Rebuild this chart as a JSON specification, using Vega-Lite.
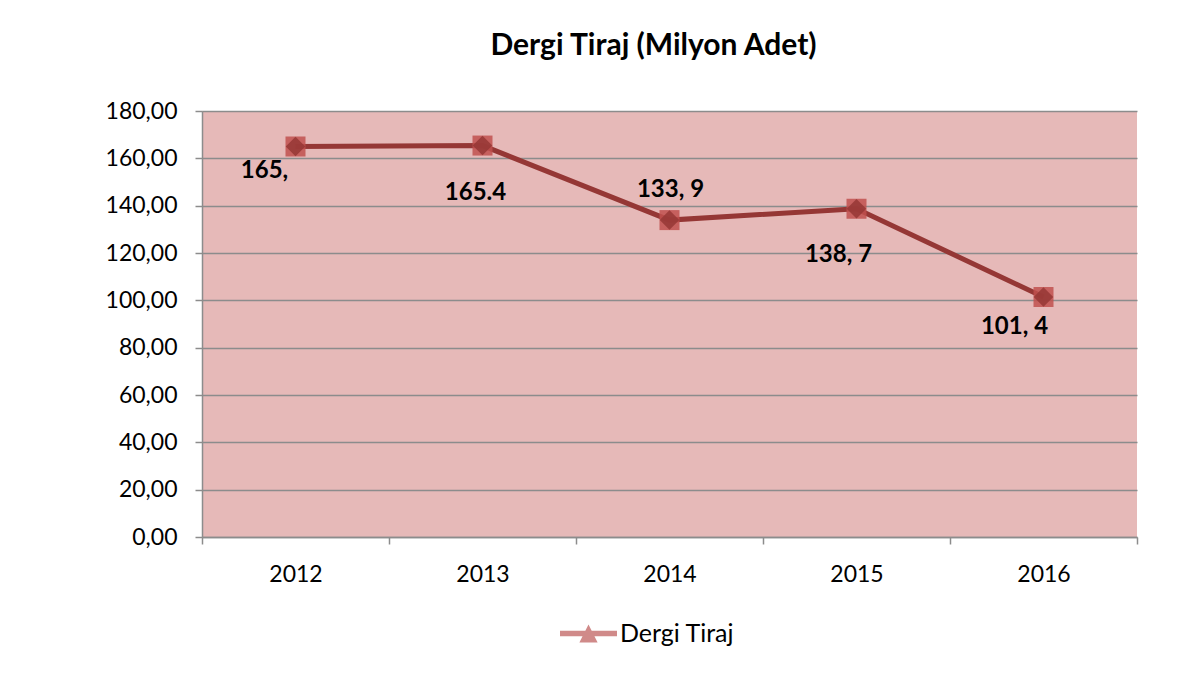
{
  "$schema": "https://vega.github.io/schema/vega-lite/v6.json",
  "width": 935,
  "height": 426,
  "padding": {"left": 105, "top": 31, "right": 40, "bottom": 20},
  "background": "white",
  "config": {
    "view": {"stroke": null, "fill": "#E6B9B8"},
    "font": "Lato",
    "text": {"font": "Lato"}
  },
  "title": {
    "text": "Dergi Tiraj (Milyon Adet)",
    "font": "Lato",
    "fontSize": 30,
    "fontWeight": "bold",
    "color": "black",
    "offset": 39,
    "dx": -16
  },
  "data": {
    "values": [
      {"year": 2012, "value": 165.0, "label": "165,", "series": "Dergi Tiraj"},
      {"year": 2013, "value": 165.4, "label": "165.4", "series": "Dergi Tiraj"},
      {"year": 2014, "value": 133.9, "label": "133,  9", "series": "Dergi Tiraj"},
      {"year": 2015, "value": 138.7, "label": "138,  7", "series": "Dergi Tiraj"},
      {"year": 2016, "value": 101.4, "label": "101,  4", "series": "Dergi Tiraj"}
    ]
  },
  "encoding": {
    "x": {
      "field": "year",
      "type": "quantitative",
      "scale": {"domain": [2011.5, 2016.5], "nice": false, "zero": false},
      "axis": {
        "title": null,
        "grid": false,
        "values": [2011.5, 2012, 2012.5, 2013, 2013.5, 2014, 2014.5, 2015, 2015.5, 2016, 2016.5],
        "labelExpr": "datum.value % 1 === 0 ? format(datum.value, 'd') : ''",
        "labelOverlap": false,
        "labelFlush": false,
        "labelFont": "Lato",
        "labelFontSize": 23,
        "labelColor": "black",
        "labelPadding": 19,
        "domainColor": "#8c8c8c",
        "domainWidth": 1.5,
        "tickColor": "#8c8c8c",
        "tickWidth": 1.5,
        "tickSize": 7,
        "tickOpacity": {"condition": {"test": "datum.value % 1 === 0", "value": 0}, "value": 1}
      }
    },
    "y": {
      "field": "value",
      "type": "quantitative",
      "scale": {"domain": [0, 180], "nice": false},
      "axis": {
        "title": null,
        "values": [0, 20, 40, 60, 80, 100, 120, 140, 160, 180],
        "labelExpr": "replace(format(datum.value, '.2f'), '.', ',')",
        "labelFont": "Lato",
        "labelFontSize": 23,
        "labelColor": "black",
        "labelPadding": 18,
        "gridColor": "#8c8c8c",
        "gridWidth": 1.5,
        "domainColor": "#8c8c8c",
        "domainWidth": 1.5,
        "tickColor": "#8c8c8c",
        "tickWidth": 1.5,
        "tickSize": 7
      }
    }
  },
  "layer": [
    {
      "mark": {"type": "point", "filled": true, "color": "#D08A89", "opacity": 1, "size": 0},
      "encoding": {
        "shape": {
          "field": "series",
          "type": "nominal",
          "scale": {"range": ["M-1,-0.1H1V0.1H-1Z M-0.32,0.32L0,-0.32L0.32,0.32Z"]},
          "legend": {
            "title": null,
            "orient": "none",
            "legendX": 358,
            "legendY": 494,
            "symbolSize": 3249,
            "symbolFillColor": "#D08A89",
            "symbolStrokeColor": "#D08A89",
            "symbolStrokeWidth": 0,
            "labelFont": "Lato",
            "labelFontSize": 25,
            "labelColor": "black",
            "labelOffset": 3
          }
        }
      }
    },
    {
      "mark": {"type": "line", "color": "#953735", "strokeWidth": 5}
    },
    {
      "mark": {"type": "point", "shape": "square", "filled": true, "color": "#C0504D", "opacity": 0.85, "size": 400}
    },
    {
      "mark": {"type": "point", "shape": "diamond", "filled": true, "color": "#953735", "opacity": 0.85, "size": 380}
    },
    {
      "transform": [{"filter": "datum.year === 2012"}],
      "mark": {"type": "text", "fontSize": 24, "fontWeight": "bold", "color": "black", "dx": -31, "dy": 24},
      "encoding": {"text": {"field": "label"}}
    },
    {
      "transform": [{"filter": "datum.year === 2013"}],
      "mark": {"type": "text", "fontSize": 24, "fontWeight": "bold", "color": "black", "dx": -7, "dy": 47},
      "encoding": {"text": {"field": "label"}}
    },
    {
      "transform": [{"filter": "datum.year === 2014"}],
      "mark": {"type": "text", "fontSize": 24, "fontWeight": "bold", "color": "black", "dx": 1, "dy": -30},
      "encoding": {"text": {"field": "label"}}
    },
    {
      "transform": [{"filter": "datum.year === 2015"}],
      "mark": {"type": "text", "fontSize": 24, "fontWeight": "bold", "color": "black", "dx": -18, "dy": 46},
      "encoding": {"text": {"field": "label"}}
    },
    {
      "transform": [{"filter": "datum.year === 2016"}],
      "mark": {"type": "text", "fontSize": 24, "fontWeight": "bold", "color": "black", "dx": -29, "dy": 30},
      "encoding": {"text": {"field": "label"}}
    }
  ]
}
